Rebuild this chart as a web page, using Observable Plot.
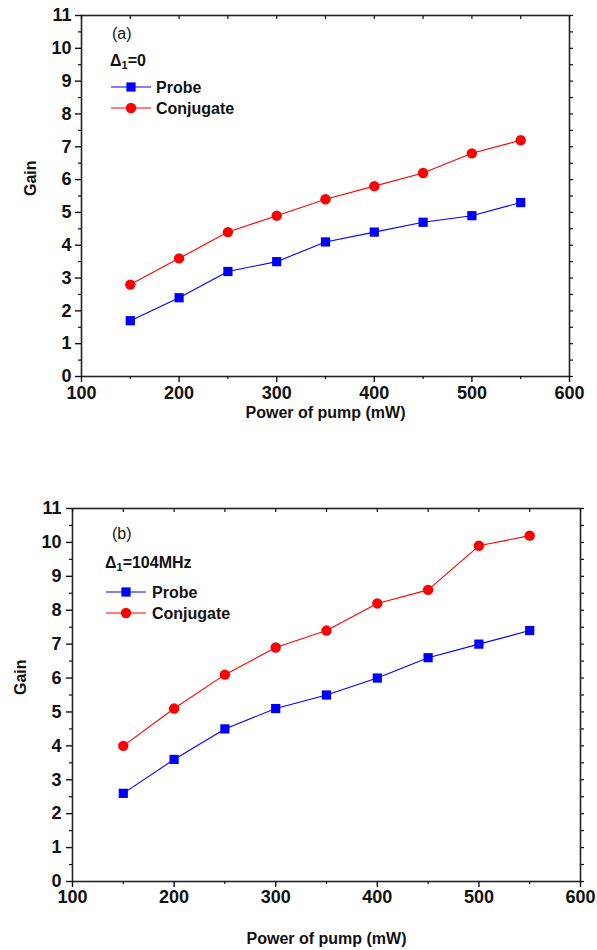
<!DOCTYPE html>
<html>
<head>
<meta charset="utf-8">
<script src="https://cdn.jsdelivr.net/npm/d3@7"></script>
<script src="https://cdn.jsdelivr.net/npm/@observablehq/plot@0.6"></script>
<style>
  body { margin: 0; background: #fff; font-family: "Liberation Sans", Arial, sans-serif; }
  .panel { position: relative; width: 597px; }
  .panel svg.overlay { position: absolute; left: 0; top: 0; pointer-events: none; }
</style>
</head>
<body>
<div id="pa" class="panel" style="height:440px"></div>
<div id="pb" class="panel" style="height:510px"></div>
<script>
// ---- data ----
const power = [150, 200, 250, 300, 350, 400, 450, 500, 550];
const seriesNames = ["Probe", "Conjugate"];
const probeA = [1.7, 2.4, 3.2, 3.5, 4.1, 4.4, 4.7, 4.9, 5.3];
const conjA  = [2.8, 3.6, 4.4, 4.9, 5.4, 5.8, 6.2, 6.8, 7.2];
const probeB = [2.6, 3.6, 4.5, 5.1, 5.5, 6.0, 6.6, 7.0, 7.4];
const conjB  = [4.0, 5.1, 6.1, 6.9, 7.4, 8.2, 8.6, 9.9, 10.2];
const xTicks = [100, 200, 300, 400, 500, 600];
const xMinor = [150, 250, 350, 450, 550];
const yTicks = [0, 1, 2, 3, 4, 5, 6, 7, 8, 9, 10, 11];
const yMinor = [0.5, 1.5, 2.5, 3.5, 4.5, 5.5, 6.5, 7.5, 8.5, 9.5, 10.5];
const xLabel = "Power of pump (mW)";
const yLabel = "Gain";
const colors = ["#0000ff", "#ff0000"];

function rows(probe, conj) {
  return [
    ...power.map((p, i) => ({x: p, y: probe[i], s: seriesNames[0]})),
    ...power.map((p, i) => ({x: p, y: conj[i], s: seriesNames[1]}))
  ];
}

function makePlot(data, m) {
  return Plot.plot({
    width: 597, height: m.height,
    marginLeft: m.left, marginRight: m.right, marginTop: m.top, marginBottom: m.bottom,
    style: {fontFamily: '"Liberation Sans", Arial, sans-serif', fontSize: "18px", fontWeight: "bold", color: "#111", background: "transparent"},
    x: {domain: [100, 600]},
    y: {domain: [0, 11]},
    color: {domain: seriesNames, range: colors},
    symbol: {domain: seriesNames, range: ["square", "circle"]},
    marks: [
      Plot.frame({stroke: "#222", strokeWidth: 1.6}),
      Plot.axisX({ticks: xTicks, tickSize: 6, tickPadding: m.xpad, label: null, strokeWidth: 1.4, fontSize: 18, fontWeight: "bold"}),
      Plot.axisX({ticks: xMinor, tickSize: 3, text: null, label: null, strokeWidth: 1.2}),
      Plot.axisX({anchor: "top", ticks: xTicks.concat(xMinor), tickSize: -3, text: null, label: null, strokeWidth: 1.2}),
      Plot.axisY({ticks: yTicks, tickSize: 6, tickPadding: m.ypad, label: null, strokeWidth: 1.4, fontSize: 18, fontWeight: "bold"}),
      Plot.axisY({ticks: yMinor, tickSize: 3, text: null, label: null, strokeWidth: 1.2}),
      Plot.axisY({anchor: "right", ticks: yTicks.concat(yMinor), tickSize: 3, text: null, label: null, strokeWidth: 1.2}),
      Plot.text([xLabel], {frameAnchor: "bottom", dy: m.xlab, fontSize: 16, fontWeight: "bold", lineAnchor: "middle"}),
      Plot.text([yLabel], {frameAnchor: "left", dx: -m.ylab, rotate: -90, fontSize: 16, fontWeight: "bold"}),
      Plot.line(data, {x: "x", y: "y", z: "s", stroke: "s", strokeWidth: 1.1}),
      Plot.dot(data, {x: "x", y: "y", symbol: "s", fill: "s", r: 5.2, stroke: "none"})
    ]
  });
}

function overlay(container, h, o) {
  const ns = "http://www.w3.org/2000/svg";
  const svg = document.createElementNS(ns, "svg");
  svg.setAttribute("class", "overlay");
  svg.setAttribute("width", 597);
  svg.setAttribute("height", h);
  svg.style.fontFamily = '"Liberation Sans", Arial, sans-serif';
  let html = "";
  html += `<text x="${o.tagX}" y="${o.tagY}" font-size="16" dominant-baseline="central" fill="#111">${o.tag}</text>`;
  html += `<text x="${o.dX}" y="${o.dY}" font-size="16" font-weight="bold" dominant-baseline="central" fill="#111">Δ<tspan font-size="11" dy="5">1</tspan><tspan dy="-5">${o.delta}</tspan></text>`;
  seriesNames.forEach((name, i) => {
    const y = o.legY[i];
    html += `<line x1="${o.lx1}" x2="${o.lx2}" y1="${y}" y2="${y}" stroke="${colors[i]}" stroke-width="1.1"/>`;
    const cx = (o.lx1 + o.lx2) / 2;
    if (i === 0) html += `<rect x="${cx - 4.6}" y="${y - 4.6}" width="9.2" height="9.2" fill="${colors[i]}"/>`;
    else html += `<circle cx="${cx}" cy="${y}" r="5.2" fill="${colors[i]}"/>`;
    html += `<text x="${o.tx}" y="${y}" font-size="16" font-weight="bold" dominant-baseline="central" fill="#111">${name}</text>`;
  });
  svg.innerHTML = html;
  container.appendChild(svg);
}

const pa = document.getElementById("pa");
pa.appendChild(makePlot(rows(probeA, conjA), {height: 440, left: 81, right: 28, top: 15, bottom: 64, xlab: 36, ylab: 51, xpad: 4, ypad: 4}));
overlay(pa, 440, {tag: "(a)", tagX: 112, tagY: 33, delta: "=0", dX: 110, dY: 60, legY: [87, 108], lx1: 111, lx2: 151, tx: 156});

const pb = document.getElementById("pb");
pb.appendChild(makePlot(rows(probeB, conjB), {height: 510, left: 72, right: 17, top: 68, bottom: 69, xlab: 57, ylab: 52, xpad: 3, ypad: 5}));
overlay(pb, 510, {tag: "(b)", tagX: 112, tagY: 93, delta: "=104MHz", dX: 105, dY: 122, legY: [152, 173], lx1: 106, lx2: 146, tx: 152});
</script>
</body>
</html>
